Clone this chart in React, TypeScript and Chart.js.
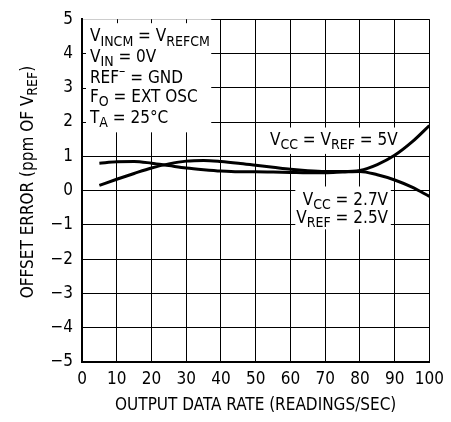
import React, { useEffect, useRef } from 'react';
import { Chart, registerables } from 'chart.js';

Chart.register(...registerables);

// Data
const rates = [5, 10, 15, 20, 25, 30, 35, 40, 45, 50, 55, 60, 65, 70, 75, 80, 85, 90, 95, 100];
const offset5V = [0.15, 0.33, 0.5, 0.66, 0.78, 0.86, 0.88, 0.85, 0.8, 0.74, 0.68, 0.62, 0.58, 0.56, 0.56, 0.59, 0.76, 1.03, 1.42, 1.9];
const offset27V = [0.8, 0.84, 0.85, 0.8, 0.73, 0.66, 0.61, 0.57, 0.55, 0.55, 0.54, 0.53, 0.52, 0.52, 0.54, 0.56, 0.46, 0.31, 0.1, -0.17];
const xMin = 0, xMax = 100, xStep = 10;
const yMin = -5, yMax = 5, yStep = 1;

const FONT = '"Liberation Sans Narrow", "DejaVu Sans Condensed", "Arial Narrow", "Liberation Sans", sans-serif';
const FS = 17;

type Seg = { t: string; s?: 'sub' | 'sup' };

const conditions: Seg[][] = [
  [{ t: 'V' }, { t: 'INCM', s: 'sub' }, { t: ' = V' }, { t: 'REFCM', s: 'sub' }],
  [{ t: 'V' }, { t: 'IN', s: 'sub' }, { t: ' = 0V' }],
  [{ t: 'REF' }, { t: '\u2013', s: 'sup' }, { t: ' = GND' }],
  [{ t: 'F' }, { t: 'O', s: 'sub' }, { t: ' = EXT OSC' }],
  [{ t: 'T' }, { t: 'A', s: 'sub' }, { t: ' = 25\u00B0C' }],
];
const label5V: Seg[] = [{ t: 'V' }, { t: 'CC', s: 'sub' }, { t: ' = V' }, { t: 'REF', s: 'sub' }, { t: ' = 5V' }];
const label27V: Seg[][] = [
  [{ t: 'V' }, { t: 'CC', s: 'sub' }, { t: ' = 2.7V' }],
  [{ t: 'V' }, { t: 'REF', s: 'sub' }, { t: ' = 2.5V' }],
];
const yTitle: Seg[] = [{ t: 'OFFSET ERROR (ppm OF V' }, { t: 'REF', s: 'sub' }, { t: ')' }];
const xTitle: Seg[] = [{ t: 'OUTPUT DATA RATE (READINGS/SEC)' }];

function fontFor(seg: Seg, size: number) {
  const s = seg.s ? Math.round(size * 0.8) : size;
  return `${s}px ${FONT}`;
}
function measure(ctx: CanvasRenderingContext2D, segs: Seg[], size: number) {
  let w = 0;
  for (const seg of segs) {
    ctx.font = fontFor(seg, size);
    w += ctx.measureText(seg.t).width;
  }
  return w;
}
function drawRich(ctx: CanvasRenderingContext2D, segs: Seg[], x: number, y: number, size: number, align: 'left' | 'right' | 'center') {
  const w = measure(ctx, segs, size);
  let cx = align === 'right' ? x - w : align === 'center' ? x - w / 2 : x;
  ctx.textAlign = 'left';
  ctx.textBaseline = 'alphabetic';
  ctx.fillStyle = '#000';
  for (const seg of segs) {
    ctx.font = fontFor(seg, size);
    const dy = seg.s === 'sub' ? size * 0.25 : seg.s === 'sup' ? -size * 0.45 : 0;
    ctx.fillText(seg.t, cx, y + dy);
    cx += ctx.measureText(seg.t).width;
  }
}

const annotPlugin = {
  id: 'annot',
  beforeDatasetsDraw(chart: any) {
    const ctx: CanvasRenderingContext2D = chart.ctx;
    const xs = chart.scales.x, ys = chart.scales.y;
    const X = (v: number) => xs.getPixelForValue(v);
    const Y = (v: number) => ys.getPixelForValue(v);
    ctx.save();
    ctx.fillStyle = '#fff';
    // white boxes behind the annotations
    ctx.fillRect(X(0), Y(5), X(37.2) - X(0), Y(1.7) - Y(5));
    ctx.fillRect(X(53), Y(1.84), X(90.3) - X(53), Y(1.07) - Y(1.84));
    ctx.fillRect(X(61.4), Y(0.12), X(88.9) - X(61.4), Y(-1.13) - Y(0.12));
    // small inner ticks along the covered edges
    ctx.strokeStyle = '#000';
    ctx.lineWidth = 1;
    for (const v of [2, 3, 4]) {
      ctx.beginPath();
      ctx.moveTo(X(0), Math.round(Y(v)) + 0.5);
      ctx.lineTo(X(0) + 4, Math.round(Y(v)) + 0.5);
      ctx.stroke();
    }
    for (const v of [10, 20, 30]) {
      ctx.beginPath();
      ctx.moveTo(Math.round(X(v)) + 0.5, Y(5));
      ctx.lineTo(Math.round(X(v)) + 0.5, Y(5) + 4);
      ctx.stroke();
    }
    // texts
    const base = [4.35, 3.75, 3.15, 2.58, 1.98];
    conditions.forEach((segs, i) => drawRich(ctx, segs, X(2.3), Y(base[i]), FS, 'left'));
    drawRich(ctx, label5V, X(54.1), Y(1.33), FS, 'left');
    drawRich(ctx, label27V[0], X(88.1), Y(-0.41), FS, 'right');
    drawRich(ctx, label27V[1], X(88.1), Y(-0.95), FS, 'right');
    ctx.restore();
  },
  afterDraw(chart: any) {
    const ctx: CanvasRenderingContext2D = chart.ctx;
    const a = chart.chartArea;
    ctx.save();
    drawRich(ctx, xTitle, (a.left + a.right) / 2, 410, FS, 'center');
    ctx.translate(33, 182);
    ctx.rotate(-Math.PI / 2);
    drawRich(ctx, yTitle, 0, 0, FS, 'center');
    ctx.restore();
  },
};

export default function App() {
  const ref = useRef<HTMLCanvasElement>(null);
  useEffect(() => {
    if (!ref.current) return;
    const chart = new Chart(ref.current, {
      type: 'line',
      data: {
        datasets: [
          {
            label: 'VCC = VREF = 5V',
            data: rates.map((x, i) => ({ x, y: offset5V[i] })),
            borderColor: '#000',
            borderWidth: 3,
            pointRadius: 0,
            cubicInterpolationMode: 'monotone',
            fill: false,
          },
          {
            label: 'VCC = 2.7V, VREF = 2.5V',
            data: rates.map((x, i) => ({ x, y: offset27V[i] })),
            borderColor: '#000',
            borderWidth: 3,
            pointRadius: 0,
            cubicInterpolationMode: 'monotone',
            fill: false,
          },
        ],
      },
      options: {
        responsive: false,
        animation: false,
        devicePixelRatio: 1,
        layout: { padding: { left: 0, right: 17, top: 12, bottom: 0 } },
        plugins: { legend: { display: false }, tooltip: { enabled: false } },
        scales: {
          x: {
            type: 'linear',
            min: xMin,
            max: xMax,
            ticks: { stepSize: xStep, color: '#000', font: { family: FONT, size: FS }, padding: 7, maxRotation: 0 },
            grid: { color: '#000', lineWidth: 1, drawTicks: false },
            border: { display: true, color: '#000', width: 2, z: 1 },
            afterFit: (s: any) => { s.height = 60; },
          },
          y: {
            type: 'linear',
            min: yMin,
            max: yMax,
            ticks: {
              stepSize: yStep,
              color: '#000',
              font: { family: FONT, size: FS },
              padding: 9,
              callback: (v: any) => (v < 0 ? '\u2212' + Math.abs(v) : String(v)),
            },
            grid: { color: '#000', lineWidth: 1, drawTicks: false },
            border: { display: true, color: '#000', width: 2, z: 1 },
            afterFit: (s: any) => { s.width = 82; },
          },
        },
      },
      plugins: [annotPlugin],
    } as any);
    return () => chart.destroy();
  }, []);
  return (
    <div style={{ position: 'absolute', left: 0, top: 0, width: 451, height: 422, background: '#fff' }}>
      <canvas ref={ref} width={451} height={422} style={{ width: 451, height: 422 }} />
    </div>
  );
}
